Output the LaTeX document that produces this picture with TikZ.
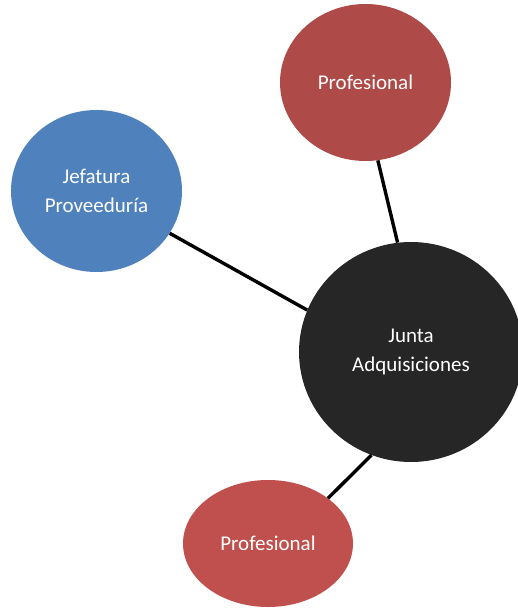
\documentclass[tikz,border=0pt]{standalone}
\usepackage{fontspec}
\setmainfont{Carlito}
\usetikzlibrary{shapes.geometric}
\definecolor{redA}{HTML}{AE4A47}
\definecolor{redB}{HTML}{C0504D}
\definecolor{blueA}{HTML}{4F81BD}
\definecolor{darkA}{HTML}{262626}
\tikzset{
  bubble/.style={ellipse, inner sep=0pt, text=white, align=center,
    font=\fontsize{21}{29}\selectfont},
  link/.style={line width=3.4pt, black}
}
\begin{document}
\begin{tikzpicture}[x=1pt,y=-1pt]
\clip (0,0) rectangle (518,609);
\useasboundingbox (0,0) rectangle (518,609);
\fill[white] (0,0) rectangle (518,609);
\node[bubble, fill=redA, minimum width=171pt, minimum height=157pt] (top) at (365.5,82.5) {Profesional};
\node[bubble, fill=blueA, minimum width=171pt, minimum height=162pt] (jef) at (96.5,191) {Jefatura\\Proveeduría};
\node[bubble, fill=darkA, minimum width=224pt, minimum height=220pt] (junta) at (411,352) {Junta\\Adquisiciones};
\node[bubble, fill=redB, minimum width=170pt, minimum height=127pt] (bot) at (268,543.5) {Profesional};
\draw[link] (jef.330) -- (junta.158);
\draw[link] (top.279) -- (junta.97);
\draw[link] (bot.37) -- (junta.249);
\end{tikzpicture}
\end{document}
